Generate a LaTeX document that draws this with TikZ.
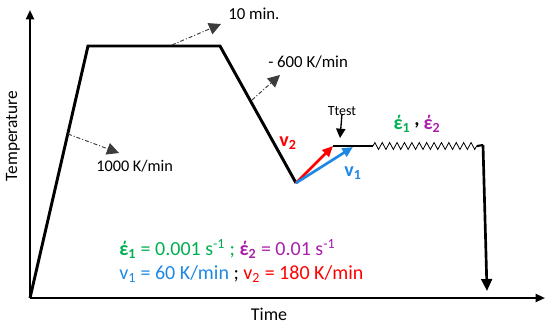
\documentclass[tikz,border=0pt]{standalone}
\usepackage{fontspec}
\setmainfont{Carlito}
\usetikzlibrary{arrows.meta,decorations.pathmorphing}
\definecolor{rategreen}{RGB}{0,176,80}
\definecolor{ratepurple}{RGB}{170,30,170}
\definecolor{rateblue}{RGB}{30,136,229}
\definecolor{ratered}{RGB}{255,0,0}
\definecolor{noteline}{RGB}{60,60,60}

\begin{document}
\begin{tikzpicture}[
    x=0.75pt, y=-0.75pt,
    axis/.style={line width=1.5pt, -{Triangle[length=7pt,width=6pt]}},
    profile/.style={line width=2.2pt, line join=miter},
    note/.style={noteline, line width=0.7pt, dash pattern=on 3pt off 1.5pt on 0.8pt off 1.5pt, -{Triangle[length=9pt,width=9pt]}},
    rate/.style={line width=2pt, -{Triangle[length=8pt,width=7pt]}},
    label/.style={inner sep=0pt, font=\fontsize{12.6}{15}\selectfont},
    ratelabel/.style={inner sep=0pt, font=\fontsize{15}{17}\selectfont\bfseries},
    legend/.style={inner sep=0pt, align=left, font=\fontsize{15}{17.5}\selectfont}
]
\useasboundingbox (0,0) rectangle (550,325);

\coordinate (origin) at (30,298);
\coordinate (ytop) at (30,10);
\coordinate (xend) at (545,298);
\coordinate (heatend) at (88,46);
\coordinate (holdend) at (220,46);
\coordinate (valley) at (296,183);
\coordinate (testred) at (333,146);
\coordinate (testblue) at (353,147);
\coordinate (testend) at (373,146);
\coordinate (zigend) at (477,146);
\coordinate (stepend) at (483,145);
\coordinate (quench) at (487,291);

\draw[axis] (origin) -- (ytop);
\draw[axis] (origin) -- (xend);

\draw[profile] (origin) -- (heatend) -- (holdend) -- (valley);
\draw[profile, line width=1.8pt] (testred) -- (testend);
\draw[line width=0.6pt, decorate, decoration={zigzag, segment length=5.55pt, amplitude=2.6pt}] (testend) -- (zigend);
\draw[line width=1.6pt] (zigend) -- (stepend);
\draw[line width=2pt, -{Triangle[length=9pt,width=8pt]}] (stepend) -- (quench);

\draw[rate, ratered] (valley) -- (testred);
\draw[rate, rateblue] (valley) -- (testblue);

\node[label, anchor=west] (tenmin) at (228,14) {10 min.};
\node[label, anchor=west] (cooling) at (268,62) {- 600 K/min};
\node[label, font=\fontsize{12.2}{15}\selectfont, anchor=west] (heating) at (96,166) {1000 K/min};
\node[inner sep=0pt, font=\fontsize{10.5}{12}\selectfont] (ttest) at (342,111) {Ttest};
\node[label, font=\fontsize{13.5}{15}\selectfont] (time) at (269,314) {Time};
\node[label, font=\fontsize{13}{15}\selectfont, rotate=90] (temp) at (13,136) {Temperature};

\coordinate (holdmark) at (172,45);
\coordinate (holdtip) at (221,24);
\coordinate (coolmark) at (252,100);
\coordinate (cooltip) at (280,75);
\coordinate (heatmark) at (68,134);
\coordinate (heattip) at (119,153);
\draw[note] (holdmark) -- (holdtip);
\draw[note] (coolmark) -- (cooltip);
\draw[note] (heatmark) -- (heattip);
\draw[line width=1pt, -{Triangle[length=7pt,width=7pt]}] (ttest.south) ++(0,-2) -- (340,138);

\node[ratelabel, ratered] (vtwo) at (288,143) {v\textsubscript{2}};
\node[ratelabel, rateblue] (vone) at (353,173) {v\textsubscript{1}};
\node[ratelabel, rategreen] (epsone) at (402,124) {έ\textsubscript{1}};
\node[ratelabel] (comma) at (417,125) {,};
\node[ratelabel, ratepurple] (epstwo) at (432,124) {έ\textsubscript{2}};

\node[legend, anchor=west] (key) at (119,261) {%
\textcolor{rategreen}{\textbf{έ\textsubscript{1}} = 0.001 s\textsuperscript{-1} ;} \textcolor{ratepurple}{\textbf{έ\textsubscript{2}} = 0.01 s\textsuperscript{-1}}\\
\textcolor{rateblue}{v\textsubscript{1} = 60 K/min} ; \textcolor{ratered}{v\textsubscript{2} = 180 K/min}};
\end{tikzpicture}
\end{document}
